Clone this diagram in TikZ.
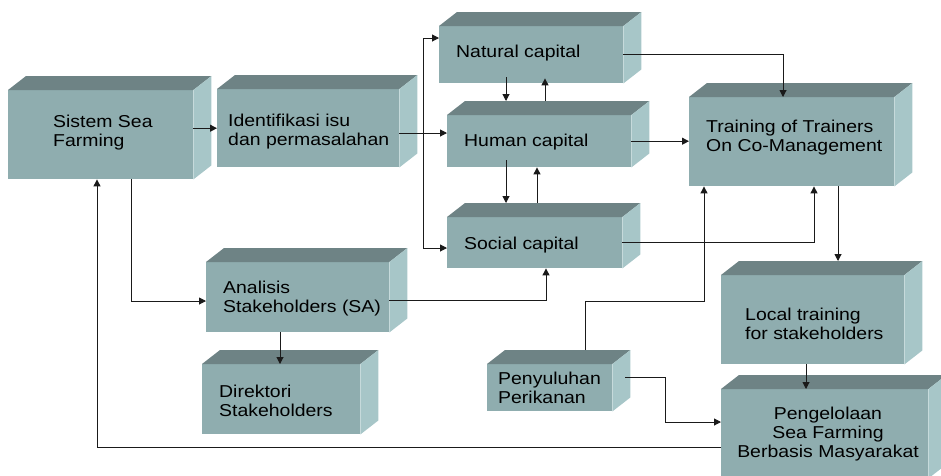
\documentclass[tikz,border=0pt]{standalone}
\usepackage{fontspec}
\usepackage{tikz}
\usetikzlibrary{calc,arrows.meta}

\newfontfamily\slabfont[FakeStretch=1.13]{Liberation Sans}

\definecolor{slabface}{HTML}{8FADAF}
\definecolor{slabroof}{HTML}{6E8385}
\definecolor{slabflank}{HTML}{A7C6C8}
\definecolor{wirec}{HTML}{1A1A1A}

% 3d box: [text options]{name}{x}{y}{width}{height}{text}
\newcommand{\slab}[7][]{%
  \node[slabfront, minimum width=#5pt, minimum height=#6pt] (#2) at (#3,#4) {};
  \coordinate (#2-rear) at ($(#2.north west)+(18,-14)$);
  \fill[slabroof] (#2.north west) -- (#2-rear) -- ($(#2.north east)+(18,-14)$) -- (#2.north east) -- cycle;
  \fill[slabflank] (#2.north east) -- ++(18,-14) -- ($(#2.south east)+(18,-14)$) -- (#2.south east) -- cycle;
  \node[slabtext, #1] (#2-text) at (#2.west) {#7};
}

\begin{document}
\begin{tikzpicture}[x=1pt,y=-1pt,
  slabfront/.style={fill=slabface, inner sep=0pt, anchor=north west},
  slabtext/.style={font=\slabfont\fontsize{17.2}{19}\selectfont, align=left, anchor=west, xshift=17pt, inner sep=0pt},
  wire/.style={draw=wirec, line width=1pt},
  arr/.style={wire, -{Triangle[length=7pt,width=7pt]}}]
  \useasboundingbox (0,0) rectangle (941,475);
  % boxes
  \slab[xshift=28pt, yshift=2pt]{sistem}{8}{90}{185}{89}{Sistem Sea\\Farming}
  \slab[xshift=-6pt, yshift=-3pt]{ident}{217}{89}{182}{78}{Identifikasi isu\\dan permasalahan}
  \slab[yshift=1.5pt]{natural}{439}{26}{184}{57}{Natural capital}
  \slab[yshift=-1pt]{human}{447}{115}{184}{52}{Human capital}
  \slab[yshift=-2.5pt]{social}{447}{217}{175}{51}{Social capital}
  \slab[yshift=4pt]{tot}{689}{97}{205}{89}{Training of Trainers\\On Co-Management}
  \slab[yshift=-1.5pt]{analisis}{206}{262}{183}{70}{Analisis\\Stakeholders (SA)}
  \slab[yshift=-1.5pt]{direktori}{202}{364}{158}{70}{Direktori\\Stakeholders}
  \slab[xshift=-6pt]{penyuluhan}{487}{364}{125}{47}{Penyuluhan\\Perikanan}
  \slab[xshift=7pt, yshift=-4.5pt]{local}{721}{275}{183}{89}{Local training\\for stakeholders}
  \slab[anchor=center, align=center, xshift=90pt]{pengelolaan}{721}{389}{207}{89}{Pengelolaan\\Sea Farming\\Berbasis Masyarakat}
  % upper flow
  \coordinate (fork) at (423,133);
  \draw[arr] (sistem.east |- ident.west) -- (ident.west);
  \draw[wire] (ident.east |- fork) -- (fork);
  \draw[arr] (fork) -- (fork -| human.west);
  \draw[arr] (fork) |- (natural.west |- 0,38);
  \draw[arr] (fork) |- (social.west |- 0,248);
  % between the capitals
  \draw[arr, shorten <=-6pt] (natural.south -| 506,0) -- (human-rear -| 506,0);
  \draw[arr, shorten >=-5pt] (human-rear -| 545,0) -- (natural.south -| 545,0);
  \draw[arr, shorten <=-7pt] (human.south -| 506,0) -- (social-rear -| 506,0);
  \draw[arr] (social-rear -| 537,0) -- (human.south -| 537,0);
  % into training of trainers
  \draw[arr] (natural.east) -| (tot.north -| 783,0);
  \draw[arr] (human.east) -- (human.east -| tot.west);
  \draw[arr] (social.east) -| (tot.south -| 814,0);
  \draw[arr] (penyuluhan-rear -| 585,0) -- (585,301) -| (tot.south -| 704,0);
  \draw[arr] (tot.south -| 838,0) -- (local-rear -| 838,0);
  % lower flow
  \draw[arr] (sistem.south -| 131,0) |- (analisis.west |- 0,301);
  \draw[arr] (analisis.east |- 0,300) -| (social.south -| 546,0);
  \draw[arr] (analisis.south -| 280,0) -- (direktori.north -| 280,0);
  \draw[arr, shorten <=13pt] (penyuluhan.east |- 0,377) -- (665,377) |- (pengelolaan.west |- 0,422);
  \draw[arr] (local.south -| 806,0) -- (pengelolaan.north -| 806,0);
  \draw[arr] (pengelolaan.west |- 0,447) -| (sistem.south -| 97,0);
\end{tikzpicture}
\end{document}
